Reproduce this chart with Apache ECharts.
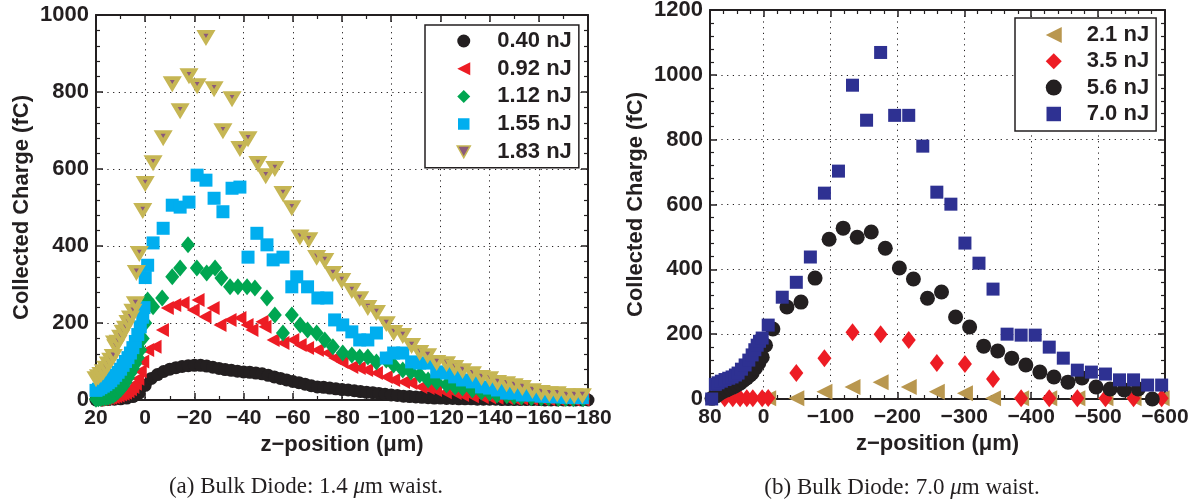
<!DOCTYPE html>
<html lang="en">
<head>
<meta charset="UTF-8">
<title>Collected Charge vs z-position</title>
<script src="https://cdn.jsdelivr.net/npm/echarts@6.0.0/dist/echarts.min.js"></script>
<style>
  body { margin: 0; background: #fff; }
  #main { width: 1196px; height: 504px; }
</style>
</head>
<body>
<div id="main"></div>
<script>
// (a) Bulk diode, 1.4 um waist  -- [z-position (um), collected charge (fC)]
var zA040 = [20,17.5,15,12.5,10,7.5,5,2.5,0,-2.5,-5,-7.5,-10,-12.5,-15,-17.5,-20,-22.5,-25,-27.5,
  -30,-32.5,-35,-37.5,-40,-42.5,-45,-47.5,-50,-52.5,-55,-57.5,-60,-62.5,-65,-67.5,-70,-72.5,-75,-77.5,
  -80,-82.5,-85,-87.5,-90,-92.5,-95,-97.5,-100,-102.5,-105,-107.5,-110,-112.5,-115,-117.5,-120,-122.5,-125,-127.5,
  -130,-132.5,-135,-137.5,-140,-142.5,-145,-147.5,-150,-152.5,-155,-157.5,-160,-162.5,-165,-167.5,-170,-172.5,-175,-177.5,-180];
var vA040 = [0,0,1,2,3,5,9,18,38,56,66,74,80,84,87,89,90,90,88,85,
  82,79,77,75,73,72,70,68,64,60,56,52,48,45,41,37,34,33,31,29,
  27,26,24,22,20,19,17,15,13,12,10,9,8,7,6,5,5,4,4,3,
  3,3,2,2,2,2,1,1,1,1,1,1,1,0,0,0,0,0,0,0,0];

var a092 = [[20,0],[19,1],[18,2],[17,3],[16,4],[15,5],[14,6],[13,8],[12,10],[11,12],[10,14],[9,16],[8,19],[7,23],[6,28],[5,34],[4,42],[3,55],[2,75],[1,100],
  [-1,130],[-4,138],[-7,182],[-9,239],[-12,247],[-15.4,252],[-19.5,234],[-21.5,260],[-24.3,216],[-27.6,239],[-30.4,195],[-34.5,208],[-38.5,213],[-41.4,195],
  [-43.4,182],[-47.5,203],[-48.7,190],[-52,156],[-56,148],[-60,156],[-63,143],[-66,135],[-70,130],[-74,122],[-77,109],[-80,99],[-84,86],[-87,83],[-90,78],
  [-94,70],[-98,60],[-101,52],[-105,47],[-108,44],[-112,34],[-115,31],[-118,26],[-122,20],[-126,18],[-129,13],[-133,10],[-137,8],[-140,7],[-143,6],
  [-147,5],[-150,4],[-153,4],[-157,3],[-161,3],[-164,2],[-168,2],[-171,2],[-174,1],[-178,1]];

var a112 = [[20,2],[19,3],[18,4],[17,5],[16,6],[15,7],[14,9],[13,12],[12,16],[11,22],[10,28],[9,36],[8,46],[7,58],[6,70],[5,82],[4,95],[3,110],[2,130],[1,160],
  [0,200],[-1,260],[-3.2,242],[-6.9,265],[-11,320],[-14.2,343],[-17.4,403],[-21,343],[-25,330],[-28.4,343],[-31,317],[-34.5,294],[-37.7,294],[-41.4,294],
  [-44.6,291],[-49.5,265],[-52.7,221],[-56,174],[-59.6,221],[-63,195],[-66,182],[-69.7,174],[-73,156],[-76.3,138],[-80.3,122],[-84,117],[-87.2,112],[-90.5,112],
  [-94,99],[-98,104],[-101,91],[-104.7,78],[-108,73],[-111.6,65],[-115,52],[-118.5,47],[-122.5,39],[-126,34],[-129,31],[-133,26],[-136.7,21],[-140,18],
  [-143,13],[-147,11],[-150,9],[-153,8],[-157,6],[-161,5],[-164,5],[-168,4],[-171,4],[-174,3],[-178,3]];

var a155 = [[20,25],[19,28],[18,32],[17,36],[16,40],[15,45],[14,50],[13,57],[12,64],[11,72],[10,80],[9,90],[8,100],[7,110],[6,122],[5,136],[4,152],[3,170],[2,190],[1,215],
  [0.5,240],[0,318],[-1,350],[-3.2,408],[-7.3,446],[-11,506],[-14.2,501],[-17.8,514],[-21.1,584],[-24.7,571],[-28,524],[-31.6,489],[-35.3,550],[-38.5,553],
  [-41.8,371],[-45.4,433],[-49.5,403],[-52,364],[-56,371],[-59.6,294],[-61.6,320],[-66,294],[-70.2,265],[-73.8,265],[-77,208],[-80.3,195],[-84,177],[-87.2,156],
  [-90.5,156],[-94,174],[-98,109],[-101,122],[-104.7,122],[-108.3,99],[-111.6,96],[-114.8,96],[-118.5,73],[-122.5,70],[-125.8,60],[-129,52],[-133,47],
  [-136.7,34],[-140,31],[-143.2,26],[-146.9,18],[-150,18],[-153.3,13],[-157.4,13],[-161,10],[-164.3,9],[-167.5,8],[-171.2,7],[-174.4,7],[-177.7,6]];

var a183 = [[20,57],[19,62],[18,68],[17,75],[16,84],[15,95],[14,105],[13,115],[12.5,150],[12,140],[11,152],[10,165],[9,178],[8,188],[7,203],[6,215],[5,232],[4,252],
  [3.6,333],[2.4,382],[1,494],[0,564],[-3.2,618],[-7.3,683],[-11,823],[-14.2,753],[-17.8,844],[-21.1,818],[-24.7,943],[-28,810],[-31.6,701],[-35.3,784],
  [-38.5,655],[-41.8,680],[-45.8,616],[-49,584],[-52.7,603],[-56,538],[-59.6,501],[-62.9,425],[-66.5,418],[-69.7,372],[-73,364],[-76.3,330],[-79.9,312],
  [-84,286],[-87.2,265],[-90.5,242],[-94,229],[-98,200],[-101,177],[-104.7,169],[-108.3,143],[-111.6,125],[-114.8,117],[-118.5,99],[-122.5,96],[-125.8,86],
  [-129,78],[-133,70],[-136.7,60],[-140,57],[-143.2,47],[-146.9,44],[-150,39],[-153.3,34],[-157.4,26],[-161,21],[-164.3,18],[-167.5,18],[-171.2,13],
  [-174.4,13],[-177.7,13]];

// (b) Bulk diode, 7.0 um waist
var b21 = [[-7,2],[-49,2],[-91,22],[-133,37],[-175,52],[-217,37],[-259,22],[-301,18],[-343,2],[-385,2],[-427,2],[-469,2],[-511,2],[-553,2],[-595,2]];
var b35 = [[58,2],[46,2],[35,2],[25,2],[16,2],[2,2],[-7,3],[-49,80],[-91,126],[-133,206],[-175,200],[-217,182],[-259,111],[-301,108],[-343,62],
  [-385,2],[-427,2],[-469,2],[-511,2],[-553,2],[-595,2]];
var b56 = [[77,2],[70,10],[65,18],[60,24],[55,28],[50,33],[45,37],[40,43],[35,49],[30,57],[25,65],[20,74],[17,80],[12,96],[7,111],[2,129],[-3,166],
  [-14,216],[-35,284],[-56,299],[-77,373],[-98,493],[-119,527],[-140,499],[-161,515],[-182,465],[-203,404],[-224,370],[-245,311],[-266,330],[-287,253],
  [-308,222],[-329,163],[-350,148],[-371,126],[-392,105],[-413,83],[-434,68],[-455,52],[-476,65],[-497,37],[-518,31],[-539,28],[-560,31],[-581,0]];
var b70 = [[77.5,0],[72,45],[68,50],[63,55],[57.5,60],[52,64],[47,68],[42,74],[38,80],[33,92],[27.5,105],[22,120],[17,136],[13,152],[9.5,166],[6,178],[2,188],
  [-7,228],[-28,314],[-49,360],[-70,438],[-91,635],[-112,703],[-133,968],[-154,860],[-175,1069],[-196,875],[-217,875],[-238,780],[-259,638],[-280,601],
  [-301,481],[-322,419],[-343,339],[-364,200],[-385,197],[-406,197],[-427,160],[-448,126],[-469,89],[-490,83],[-511,77],[-532,59],[-553,59],[-574,43],[-595,43]];

var FONT = "'Liberation Sans', Arial, Helvetica, sans-serif";
var SERIF = "'Liberation Serif', 'Times New Roman', serif";
var INK = '#231f20';
// legend icon shapes (triangles pointing left / down)
var TRI_LEFT = 'path://M0,5L10,0L10,10Z';
var TRI_DOWN = 'path://M0,0L11,0L5.5,10Z';

function fmt(v) { return v < 0 ? '\u2212' + (-v) : String(v); }

var boldText = { fontSize: 22, fontWeight: 'bold', fontFamily: FONT, color: INK };

function xAx(gi, min, max, step, minor, main) {
  return {
    type: 'value', gridIndex: gi, min: min, max: max, interval: step, inverse: true,
    position: main ? 'bottom' : 'top',
    axisLine: { show: true, onZero: false, lineStyle: { color: INK, width: 2 } },
    axisTick: { show: true, inside: true, length: 7, lineStyle: { color: INK, width: 1.5 } },
    minorTick: { show: true, splitNumber: minor, length: 4, lineStyle: { color: INK, width: 1.2 } },
    splitLine: { show: main, lineStyle: { color: INK, width: 1, type: [1.2, 4.5] } },
    axisLabel: { show: main, formatter: fmt, fontSize: 21, fontWeight: 'bold', fontFamily: FONT, color: INK, margin: 8 },
    name: main ? 'z\u2212position (\u03bcm)' : '', nameLocation: 'middle', nameGap: 31,
    nameTextStyle: boldText
  };
}
function yAx(gi, max, main) {
  return {
    type: 'value', gridIndex: gi, min: 0, max: max, interval: 200,
    position: main ? 'left' : 'right',
    axisLine: { show: true, onZero: false, lineStyle: { color: INK, width: 2 } },
    axisTick: { show: true, inside: true, length: 7, lineStyle: { color: INK, width: 1.5 } },
    minorTick: { show: true, splitNumber: 5, length: 4, lineStyle: { color: INK, width: 1.2 } },
    splitLine: { show: main, lineStyle: { color: INK, width: 1, type: [1.2, 4.5] } },
    axisLabel: { show: main, formatter: fmt, fontSize: 22, fontWeight: 'bold', fontFamily: FONT, color: INK, margin: 7 },
    name: main ? 'Collected Charge (fC)' : '', nameLocation: 'middle', nameGap: 63,
    nameTextStyle: boldText
  };
}

function sc(name, data, gi, symbol, size, rot, color, extra) {
  var s = {
    name: name, type: 'scatter', data: data,
    xAxisIndex: gi * 2, yAxisIndex: gi * 2,
    symbol: symbol, symbolSize: size, symbolRotate: rot,
    itemStyle: { color: color, opacity: 1 },
    emphasis: { disabled: true }, silent: true
  };
  if (extra) { s.itemStyle.borderColor = extra.borderColor; s.itemStyle.borderWidth = extra.borderWidth; }
  return s;
}

function legendFor(items, left, top, iconSize, pad, gap, textPad) {
  return {
    data: items, orient: 'vertical', left: left, top: top,
    padding: pad, itemWidth: iconSize, itemHeight: iconSize, itemGap: gap,
    borderColor: INK, borderWidth: 1.5, borderRadius: 0, backgroundColor: '#fff',
    selectedMode: false,
    textStyle: { fontSize: 22, fontWeight: 'bold', fontFamily: FONT, color: INK, lineHeight: 22, padding: [0, 0, 0, textPad] }
  };
}

var chart = echarts.init(document.getElementById('main'), null, { renderer: 'canvas' });

var option = {
  animation: false,
  backgroundColor: '#fff',
  grid: [
    { left: 96, top: 15, width: 492, height: 385, outerBoundsMode: 'none', containLabel: false },
    { left: 710, top: 10, width: 455, height: 389, outerBoundsMode: 'none', containLabel: false }
  ],
  xAxis: [
    xAx(0, -180, 20, 20, 2, true), xAx(0, -180, 20, 20, 2, false),
    xAx(1, -600, 80, 100, 5, true), xAx(1, -600, 80, 100, 5, false)
  ],
  yAxis: [
    yAx(0, 1000, true), yAx(0, 1000, false),
    yAx(1, 1200, true), yAx(1, 1200, false)
  ],
  legend: [
    legendFor([
      { name: '0.40 nJ', icon: 'circle' },
      { name: '0.92 nJ', icon: TRI_LEFT },
      { name: '1.12 nJ', icon: 'diamond' },
      { name: '1.55 nJ', icon: 'rect', itemStyle: { borderColor: '#fff', borderWidth: 1.5 } },
      { name: '1.83 nJ', icon: TRI_DOWN, itemStyle: { borderWidth: 1.5 } }
    ], 425, 25, 13, [5, 7, 5, 31.5], 5.7, 22),
    legendFor([
      { name: '2.1 nJ', icon: TRI_LEFT },
      { name: '3.5 nJ', icon: 'diamond' },
      { name: '5.6 nJ', icon: 'circle' },
      { name: '7.0 nJ', icon: 'rect', itemStyle: { borderColor: '#fff', borderWidth: 1.5 } }
    ], 1015, 18, 16, [6, 7, 6, 30], 4.3, 20)
  ],
  series: [
    sc('0.40 nJ', zA040.map(function (z, i) { return [z, vA040[i]]; }), 0, 'circle', 13, 0, INK),
    sc('0.92 nJ', a092, 0, 'triangle', [14, 13], 90, '#ed1c24'),
    sc('1.12 nJ', a112, 0, 'diamond', [14, 17], 0, '#00a651'),
    sc('1.55 nJ', a155, 0, 'rect', 13, 0, '#00aeef'),
    sc('1.83 nJ', a183, 0, 'triangle', [12, 10], 180, '#8b5a7a', { borderColor: '#c6b654', borderWidth: 4 }),
    sc('2.1 nJ', b21, 1, 'triangle', [16, 16], 90, '#b9974f'),
    sc('3.5 nJ', b35, 1, 'diamond', [14, 18], 0, '#ed1c24'),
    sc('5.6 nJ', b56, 1, 'circle', 15, 0, INK),
    sc('7.0 nJ', b70, 1, 'rect', 13, 0, '#2e3192')
  ],
  graphic: [
    { type: 'text', x: 306, y: 487, silent: true,
      style: { text: '(a) Bulk Diode: 1.4 {i|\u03bc}m waist.', align: 'center', verticalAlign: 'middle',
        fontSize: 23, fontFamily: SERIF, fill: INK,
        rich: { i: { fontSize: 23, fontStyle: 'italic', fontFamily: SERIF, fill: INK } } } },
    { type: 'text', x: 902, y: 488, silent: true,
      style: { text: '(b) Bulk Diode: 7.0 {i|\u03bc}m waist.', align: 'center', verticalAlign: 'middle',
        fontSize: 23, fontFamily: SERIF, fill: INK,
        rich: { i: { fontSize: 23, fontStyle: 'italic', fontFamily: SERIF, fill: INK } } } }
  ]
};

chart.setOption(option);
</script>
</body>
</html>
